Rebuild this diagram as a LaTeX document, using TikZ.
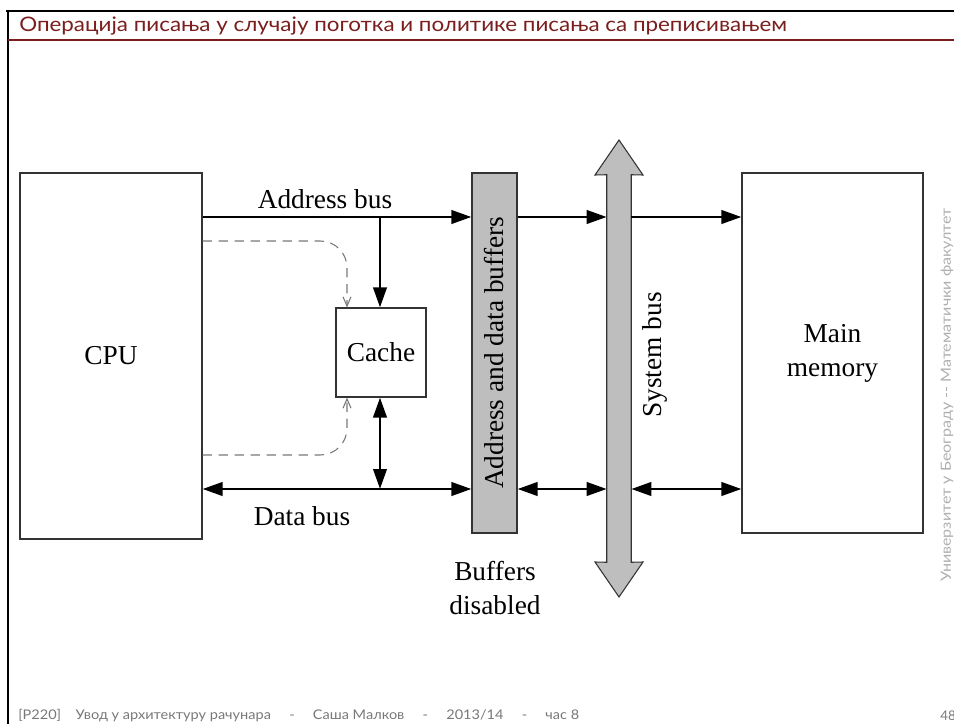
\documentclass[tikz,border=0pt]{standalone}
\usepackage{fontspec}
\setmainfont{Liberation Serif}
\newfontfamily\slidefont{Lato}
\usetikzlibrary{arrows.meta,fit}
\definecolor{titlered}{RGB}{122,30,30}
\definecolor{busgray}{RGB}{190,190,190}
\definecolor{dashgray}{RGB}{120,120,120}
\definecolor{footgray}{RGB}{120,120,120}
\definecolor{sidegray}{RGB}{175,175,175}
\begin{document}
\begin{tikzpicture}[x=0.75pt,y=-0.75pt,
  box/.style={draw=black!80, line width=0.8pt, inner sep=0pt},
  lbl/.style={font=\fontsize{20.5}{25.5}\selectfont, inner sep=0pt},
  bus/.style={line width=2.2pt, -{Triangle[length=15pt,width=10pt]}},
  dbus/.style={line width=2.2pt, {Triangle[length=15pt,width=10pt]}-{Triangle[length=15pt,width=10pt]}},
  ctl/.style={dashgray, line width=0.8pt, dash pattern=on 7pt off 5pt, rounded corners=20pt, -{Straight Barb[length=7pt,width=6pt]}}]
\useasboundingbox (0,0) rectangle (954,724);
% slide frame
\draw[line width=2.2pt] (6,11) -- (954,11);
\draw[line width=2.2pt] (8,10) -- (8,724);
\draw[titlered, line width=1.5pt] (8,40) -- (954,40);
\node[anchor=west, text=titlered, font=\slidefont\fontsize{15}{17}\selectfont, inner sep=0pt] (title) at (19,26) {\scalebox{1.12}[1]{Операција писања у случају поготка и политике писања са преписивањем}};
\node[anchor=west, text=footgray, font=\slidefont\fontsize{10}{11}\selectfont, inner sep=0pt] (foot) at (18,716) {\scalebox{1.09}[1]{[P220]\quad Увод у архитектуру рачунара \quad - \quad Саша Малков \quad - \quad 2013/14 \quad - \quad час 8}};
\node[anchor=west, text=footgray, font=\slidefont\fontsize{10}{11}\selectfont, inner sep=0pt] (page) at (940,716) {48};
\node[rotate=90, text=sidegray, font=\slidefont\fontsize{10.5}{12}\selectfont, inner sep=0pt] (side) at (947,395) {\scalebox{1.15}[1]{Универзитет у Београду -- Математички факултет}};
% blocks
\node[box, fit={(20,173)(202,539)}] (cpu) {};
\node[lbl] (cpulbl) at (cpu.center) {CPU};
\node[box, fit={(336,308)(426,397)}] (cache) {};
\node[lbl] (cachelbl) at (cache.center) {Cache};
\node[box, fill=busgray, fit={(472,173)(517,533)}] (buf) {};
\node[lbl, rotate=90] (buflbl) at (buf.center) {Address and data buffers};
\node[box, fit={(742,173)(923,533)}] (mem) {};
\node[lbl, align=center] (memlbl) at (mem.center) {Main\\memory};
% system bus
\node[inner sep=0pt, fit={(607,175)(631,562)}] (sb) {};
\filldraw[fill=busgray, draw=black!80, line width=0.8pt]
  (619,140) -- (643,175) -- (sb.north east) -- (sb.south east) -- (643,562) -- (619,597)
  -- (595,562) -- (sb.south west) -- (sb.north west) -- (595,175) -- cycle;
\node[lbl, rotate=90] (sblbl) at (655,355) {System bus};
% coordinates
\coordinate (ya) at (0,217);
\coordinate (yd) at (0,489);
\coordinate (cx) at (380,0);
\coordinate (dx) at (347,0);
\coordinate (yc1) at (0,241);
\coordinate (yc2) at (0,455);
% buses
\draw[bus] (cpu.east |- ya) -- (buf.west |- ya);
\draw[bus] (cx |- ya) -- (cx |- cache.north);
\draw[dbus] (cpu.east |- yd) -- (buf.west |- yd);
\draw[dbus] (cx |- cache.south) -- (cx |- yd);
\draw[bus] (buf.east |- ya) -- (sb.west |- ya);
\draw[dbus] (buf.east |- yd) -- (sb.west |- yd);
\draw[bus] (sb.east |- ya) -- (mem.west |- ya);
\draw[dbus] (sb.east |- yd) -- (mem.west |- yd);
% control (dashed)
\draw[ctl] (cpu.east |- yc1) -- (dx |- yc1) -- (dx |- cache.north);
\draw[ctl] (cpu.east |- yc2) -- (dx |- yc2) -- (dx |- cache.south);
% labels
\node[lbl] (abus) at (325,199) {Address bus};
\node[lbl] (dbusl) at (302,516) {Data bus};
\node[lbl, align=center] (bdis) at (495,588) {Buffers\\disabled};
\end{tikzpicture}
\end{document}
